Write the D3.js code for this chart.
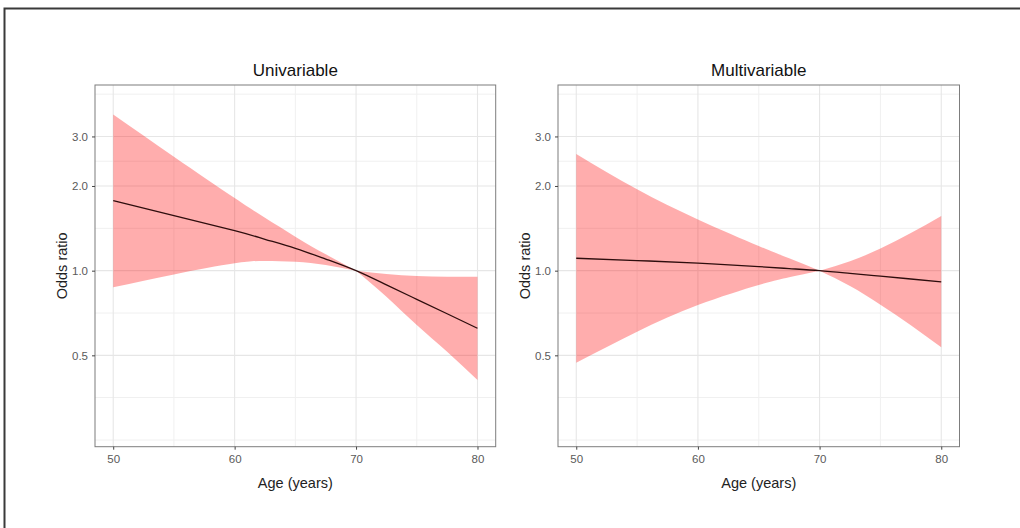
<!DOCTYPE html>
<html>
<head>
<meta charset="utf-8">
<script src="https://cdn.jsdelivr.net/npm/d3@7/dist/d3.min.js"></script>
<style>
  html, body { margin: 0; padding: 0; background: #fff; }
  svg { display: block; font-family: "Liberation Sans", Arial, Helvetica, sans-serif; }
</style>
</head>
<body>
<svg id="chart" width="1020" height="528"></svg>
<script>
// Age-specific odds ratios (reference age 70) with 95% confidence bands
const ageUni  = [50, 55, 60, 62.5, 65, 67.5, 70, 72.5, 75, 77.5, 80];
const orUni   = [1.774, 1.568, 1.387, 1.293, 1.201, 1.10, 1.0, 0.89, 0.791, 0.703, 0.624];
const lowUni  = [0.873, 0.97, 1.062, 1.083, 1.076, 1.047, 1.0, 0.808, 0.641, 0.515, 0.409];
const upUni   = [3.589, 2.541, 1.811, 1.542, 1.321, 1.143, 1.0, 0.973, 0.957, 0.952, 0.952];

const ageMulti = [50, 55, 60, 65, 67.5, 70, 72.5, 75, 77.5, 80];
const orMulti  = [1.107, 1.086, 1.064, 1.034, 1.017, 1.0, 0.978, 0.956, 0.934, 0.913];
const lowMulti = [0.471, 0.607, 0.755, 0.89, 0.948, 1.0, 0.882, 0.757, 0.64, 0.534];
const upMulti  = [2.598, 1.946, 1.52, 1.224, 1.106, 1.0, 1.08, 1.198, 1.36, 1.564];

const panelTitles = ["Univariable", "Multivariable"];
const refAge = 70;

const xTicks = [50, 60, 70, 80];
const xMinor = [55, 65, 75];
const yTicks = [0.5, 1.0, 2.0, 3.0];
const yTickLabels = ["0.5", "1.0", "2.0", "3.0"];
const yMinor = [0.25, 0.354, 0.707, 1.414, 2.449, 4.24];

const xTitle = "Age (years)";
const yTitle = "Odds ratio";

const toRows = (ages, est, lo, hi) => ages.map((a, i) => ({ age: a, or: est[i], lo: lo[i], hi: hi[i] }));
const panels = [
  { title: panelTitles[0], rows: toRows(ageUni, orUni, lowUni, upUni), left: 95, right: 495.7 },
  { title: panelTitles[1], rows: toRows(ageMulti, orMulti, lowMulti, upMulti), left: 558, right: 959.5 }
];

const svg = d3.select("#chart");
const panelTop = 85, panelBottom = 446.7;

// outer frame (left and top edges visible)
svg.append("path")
  .attr("d", "M4.5,528 V8.5 H1020")
  .attr("fill", "none")
  .attr("stroke", "#3a3a3a")
  .attr("stroke-width", 2);

const y = d3.scaleLog().domain([0.2367, 4.571]).range([panelBottom, panelTop]);

panels.forEach(p => {
  const x = d3.scaleLinear().domain([48.5, 81.5]).range([p.left, p.right]);
  const g = svg.append("g");

  // grid
  g.selectAll(".hminor").data(yMinor).join("line")
    .attr("x1", p.left).attr("x2", p.right)
    .attr("y1", d => y(d)).attr("y2", d => y(d))
    .attr("stroke", "#f0f0f0").attr("stroke-width", 1);
  g.selectAll(".vminor").data(xMinor).join("line")
    .attr("y1", panelTop).attr("y2", panelBottom)
    .attr("x1", d => x(d)).attr("x2", d => x(d))
    .attr("stroke", "#f0f0f0").attr("stroke-width", 1);
  g.selectAll(".hmajor").data(yTicks).join("line")
    .attr("x1", p.left).attr("x2", p.right)
    .attr("y1", d => y(d)).attr("y2", d => y(d))
    .attr("stroke", "#e6e6e6").attr("stroke-width", 1.1);
  g.selectAll(".vmajor").data(xTicks).join("line")
    .attr("y1", panelTop).attr("y2", panelBottom)
    .attr("x1", d => x(d)).attr("x2", d => x(d))
    .attr("stroke", "#e6e6e6").attr("stroke-width", 1.1);

  // confidence band, pinched at the reference age
  const band = d3.area()
    .x(d => x(d.age)).y0(d => y(d.lo)).y1(d => y(d.hi))
    .curve(d3.curveNatural);
  const before = p.rows.filter(d => d.age <= refAge);
  const after = p.rows.filter(d => d.age >= refAge);
  [before, after].forEach(seg => {
    g.append("path").datum(seg)
      .attr("d", band)
      .attr("fill", "#ff0000")
      .attr("fill-opacity", 0.32);
  });

  // estimate line
  const line = d3.line().x(d => x(d.age)).y(d => y(d.or)).curve(d3.curveNatural);
  g.append("path").datum(p.rows)
    .attr("d", line)
    .attr("fill", "none")
    .attr("stroke", "#2e0d0d")
    .attr("stroke-width", 1.3);

  // panel border
  g.append("rect")
    .attr("x", p.left).attr("y", panelTop)
    .attr("width", p.right - p.left).attr("height", panelBottom - panelTop)
    .attr("fill", "none").attr("stroke", "#7d7d7d").attr("stroke-width", 1);

  // axes
  const xAxis = d3.axisBottom(x).tickValues(xTicks).tickSize(3).tickPadding(5).tickFormat(d3.format("d"));
  const gx = g.append("g").attr("transform", `translate(0,${panelBottom})`).call(xAxis);
  const yAxis = d3.axisLeft(y).tickValues(yTicks).tickSize(3).tickPadding(4)
    .tickFormat((d, i) => yTickLabels[i]);
  const gy = g.append("g").attr("transform", `translate(${p.left},0)`).call(yAxis);
  [gx, gy].forEach(a => {
    a.select(".domain").remove();
    a.selectAll(".tick line").attr("stroke", "#444").attr("stroke-width", 1);
    a.selectAll(".tick text").attr("fill", "#5a5a5a").attr("font-size", 11.5)
      .attr("font-family", "Liberation Sans, Arial, sans-serif");
  });

  // titles
  const cx = (p.left + p.right) / 2;
  g.append("text").attr("x", cx).attr("y", 76)
    .attr("text-anchor", "middle").attr("font-size", 17).attr("fill", "#111")
    .text(p.title);
  g.append("text").attr("x", cx).attr("y", 488)
    .attr("text-anchor", "middle").attr("font-size", 14.5).attr("fill", "#222")
    .text(xTitle);
  g.append("text")
    .attr("transform", `translate(${p.left - 33.5},${(panelTop + panelBottom) / 2}) rotate(-90)`)
    .attr("text-anchor", "middle").attr("dominant-baseline", "central")
    .attr("font-size", 14.5).attr("fill", "#222")
    .text(yTitle);
});
</script>
</body>
</html>
